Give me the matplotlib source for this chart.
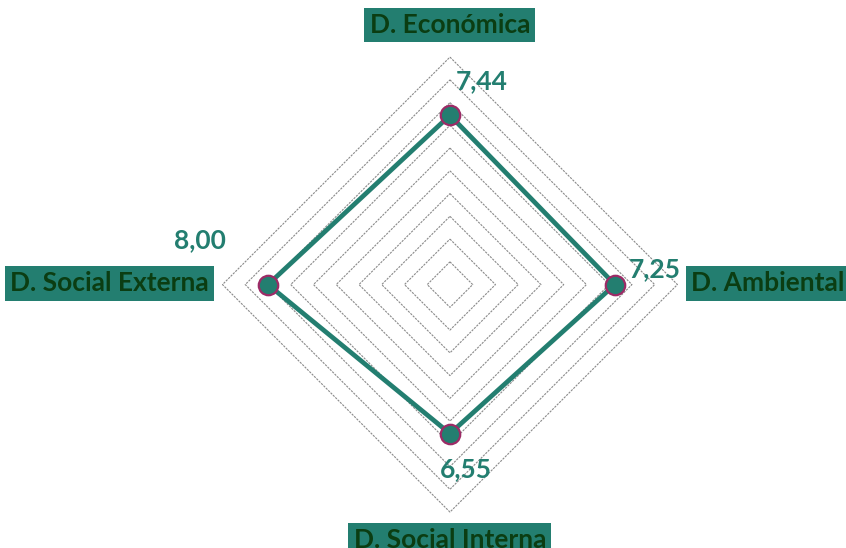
import numpy as np
import matplotlib
matplotlib.use('Agg')
from matplotlib import pyplot as plt

categories = ['D. Económica', 'D. Ambiental', 'D. Social Interna', 'D. Social Externa']
values = [7.44, 7.25, 6.55, 8.00]
value_labels = ['7,44', '7,25', '6,55', '8,00']
levels = np.arange(1, 11)

teal = '#237e70'
dark = '#0b3d12'
edge = '#9c2b66'

plt.rcParams['font.family'] = ['Lato', 'DejaVu Sans']

# axes top, right, bottom, left
angles = np.array([90, 0, -90, 180]) * np.pi / 180
ux, uy = np.cos(angles), np.sin(angles)

fig = plt.figure(figsize=(8.46, 5.48), dpi=100)
ax = fig.add_axes([0, 0, 1, 1])
ax.set_xlim(-19.78, 17.41)
ax.set_ylim(-11.58, 12.51)
ax.axis('off')

# diamond grid
for r in levels:
    gx = np.append(ux * r, ux[0] * r)
    gy = np.append(uy * r, uy[0] * r)
    ax.plot(gx, gy, color='#8a8a8a', lw=0.8, ls=(0, (2, 1)), zorder=1)

vals = np.array(values)
px = np.append(ux * vals, ux[0] * vals[0])
py = np.append(uy * vals, uy[0] * vals[0])
ax.plot(px, py, color=teal, lw=3.4, zorder=2)
ax.plot(ux * vals, uy * vals, 'o', ms=14, mfc=teal, mec=edge, mew=1.6, zorder=3)

box = dict(boxstyle='square,pad=0.2', fc=teal, ec='none')
label_pos = [(0, 11.41, 'center'), (10.6, 0.05, 'left'),
             (0, -11.25, 'center'), (-10.6, 0.05, 'right')]
for name, (x, y, ha) in zip(categories, label_pos):
    ax.text(x, y, name, ha=ha, va='center', fontsize=19, fontweight='bold',
            color=dark, bbox=box, zorder=4)

value_pos = [(1.41, 8.95), (9.01, 0.68), (0.70, -8.11), (-10.99, 1.96)]
for lab, (x, y) in zip(value_labels, value_pos):
    ax.text(x, y, lab, ha='center', va='center', fontsize=19, fontweight='bold',
            color=teal, zorder=4)

fig.savefig('out.png', dpi=100)
